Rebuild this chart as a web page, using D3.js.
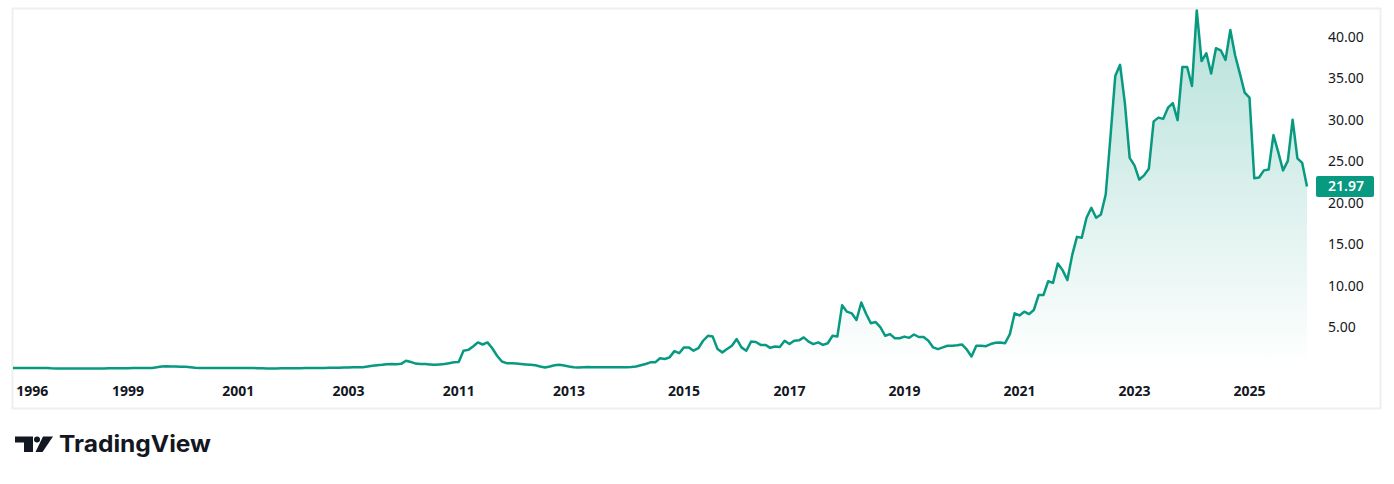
<!DOCTYPE html>
<html lang="en">
<head>
	<meta charset="utf-8">
	<title>Price chart</title>
	<script src="https://d3js.org/d3.v7.min.js" charset="utf-8"></script>
	<style>
		body {
			margin: 0;
			background: #ffffff;
		}
		.price {
			font-family: "Noto Sans", "DejaVu Sans", sans-serif;
			font-size: 14px;
			fill: #131722;
		}
		.year {
			font-family: "Noto Sans", "DejaVu Sans", sans-serif;
			font-size: 14px;
			font-weight: bold;
			fill: #131722;
		}
	</style>
</head>
<body>

	<div id="main"></div>

	<script type="text/javascript">
		// monthly closes, one per bar (data jumps from 2003 to 2010)
		var closes = [
			0.12,0.12,0.12,0.12,0.12,0.12,0.12,0.12,
			0.08,0.07,0.07,0.07,0.07,0.07,0.07,0.07,0.07,0.07,0.07,0.07,0.08,0.08,0.08,0.09,0.1,
			0.12,0.12,0.12,0.12,0.13,
			0.2,0.3,0.32,0.3,0.3,0.28,0.27,0.22,0.15,
			0.12,0.12,0.11,0.11,0.11,0.12,0.12,0.12,0.11,0.11,0.12,0.12,0.1,0.08,0.06,0.06,0.07,0.08,0.09,0.1,0.1,0.1,0.11,0.11,0.12,0.12,0.13,0.14,
			0.15,0.16,0.17,
			0.18,0.2,0.2,0.22,0.3,0.38,0.45,0.5,0.58,0.6,0.58,0.62,1.0,0.85,0.65,0.6,0.6,0.55,0.5,0.55,0.6,0.7,0.8,
			0.85,2.2,2.3,2.7,3.2,2.95,3.2,2.5,1.6,0.9,0.7,
			0.68,0.65,0.6,0.55,0.5,0.45,0.3,0.17,0.3,0.45,0.5,0.42,0.3,0.2,0.17,0.22,0.25,0.22,0.2,0.2,0.2,0.2,0.2,0.2,0.22,0.25,0.3,0.45,
			0.6,0.8,0.8,1.3,1.2,1.4,2.15,1.9,2.6,2.6,
			2.2,2.5,3.4,4.0,3.9,2.4,2.0,2.4,2.8,3.6,
			2.6,2.2,3.3,3.25,2.9,2.9,2.55,2.7,2.65,3.4,
			3.0,3.4,3.45,3.8,3.3,3.0,3.2,2.9,3.1,4.0,
			3.9,7.66,6.9,6.7,5.9,8.0,6.65,5.5,5.65,5.0,
			4.0,4.2,3.7,3.7,3.9,3.75,4.15,3.85,3.85,3.4,
			2.6,2.4,2.6,2.8,2.8,2.85,
			2.95,2.35,1.5,2.8,2.8,2.75,3.0,3.15,3.2,3.1,
			4.2,6.7,6.45,6.9,6.6,7.1,8.9,8.9,10.56,10.36,
			12.7,11.9,10.7,13.7,15.9,15.8,18.2,19.4,18.2,18.6,
			21.0,28.0,35.3,36.6,32.0,25.4,24.5,22.8,23.3,24.1,
			29.8,30.25,30.1,31.45,32.0,29.95,36.35,36.35,34.05,43.15,
			37.05,38.0,35.55,38.6,38.35,37.2,40.8,37.75,35.55,33.25,
			32.65,22.95,23.05,23.9,24.0,28.15,26.1,23.9,25.05,30.0,
			25.35,24.8,21.97
		];

		var yearLabels = ["1996", "1999", "2001", "2003", "2011", "2013", "2015", "2017", "2019", "2021", "2023", "2025"];
		var yearBars = [4, 24, 47, 70, 93, 116, 140, 162, 186, 210, 234, 258];

		var priceTicks = [5, 10, 15, 20, 25, 30, 35, 40];
		var lastPrice = 21.97;

		var width = 1394;
		var height = 484;
		var green = "#089981";

		var svg = d3.select("#main").append("svg")
			.attr("width", width)
			.attr("height", height);

		var x = d3.scaleLinear()
			.domain([0, closes.length - 1])
			.range([13, 1307]);

		var y = d3.scaleLinear()
			.domain([0, 40])
			.range([369, 36.6]);

		var paneBottom = 378;

		// frame
		svg.append("rect")
			.attr("x", 12.5)
			.attr("y", 8.5)
			.attr("width", 1368)
			.attr("height", 400)
			.attr("fill", "none")
			.attr("stroke", "#efefef")
			.attr("stroke-width", 2);

		var grad = svg.append("defs").append("linearGradient")
			.attr("id", "fade")
			.attr("gradientUnits", "userSpaceOnUse")
			.attr("x1", 0).attr("x2", 0)
			.attr("y1", y(d3.max(closes)))
			.attr("y2", paneBottom - 10);
		grad.append("stop").attr("offset", 0).attr("stop-color", green).attr("stop-opacity", 0.3);
		grad.append("stop").attr("offset", 1).attr("stop-color", green).attr("stop-opacity", 0.0);

		var area = d3.area()
			.x(function(d, i) { return x(i); })
			.y0(paneBottom)
			.y1(function(d) { return y(d); });

		var line = d3.line()
			.x(function(d, i) { return x(i); })
			.y(function(d) { return y(d); });

		svg.append("path")
			.datum(closes)
			.attr("d", area)
			.attr("fill", "url(#fade)");

		svg.append("path")
			.datum(closes)
			.attr("d", line)
			.attr("fill", "none")
			.attr("stroke", green)
			.attr("stroke-width", 2.5)
			.attr("stroke-linejoin", "round");

		// price scale
		svg.append("g")
			.selectAll("text")
			.data(priceTicks)
			.enter().append("text")
			.attr("class", "price")
			.attr("x", 1328)
			.attr("y", function(d) { return y(d); })
			.attr("dy", "0.35em")
			.text(function(d) { return d3.format(".2f")(d); });

		// last price tag
		svg.append("rect")
			.attr("x", 1316)
			.attr("y", y(lastPrice) - 10.5)
			.attr("width", 58)
			.attr("height", 21)
			.attr("rx", 2)
			.attr("fill", green);

		svg.append("text")
			.attr("class", "price")
			.attr("x", 1328)
			.attr("y", y(lastPrice))
			.attr("dy", "0.35em")
			.style("fill", "#ffffff")
			.style("font-weight", "600")
			.text(d3.format(".2f")(lastPrice));

		// time scale
		svg.append("g")
			.selectAll("text")
			.data(yearLabels)
			.enter().append("text")
			.attr("class", "year")
			.attr("x", function(d, i) { return Math.max(x(yearBars[i]), 31); })
			.attr("y", 391)
			.attr("dy", "0.35em")
			.attr("text-anchor", "middle")
			.text(function(d) { return d; });

		// logo
		var logo = svg.append("g").attr("fill", "#131722");
		logo.append("path")
			.attr("d", "M15,436.5 H33 V452 H24 V442.5 H15 Z");
		logo.append("circle")
			.attr("cx", 37)
			.attr("cy", 439.5)
			.attr("r", 3);
		logo.append("path")
			.attr("d", "M43,436.5 H53 L42.5,452 H35.5 Z");
		logo.append("text")
			.attr("x", 59)
			.attr("y", 452)
			.attr("font-family", "Inter, 'Noto Sans', sans-serif")
			.attr("font-size", 23)
			.attr("font-weight", 700)
			.attr("textLength", 152)
			.attr("lengthAdjust", "spacingAndGlyphs")
			.text("TradingView");
	</script>
</body>
</html>
